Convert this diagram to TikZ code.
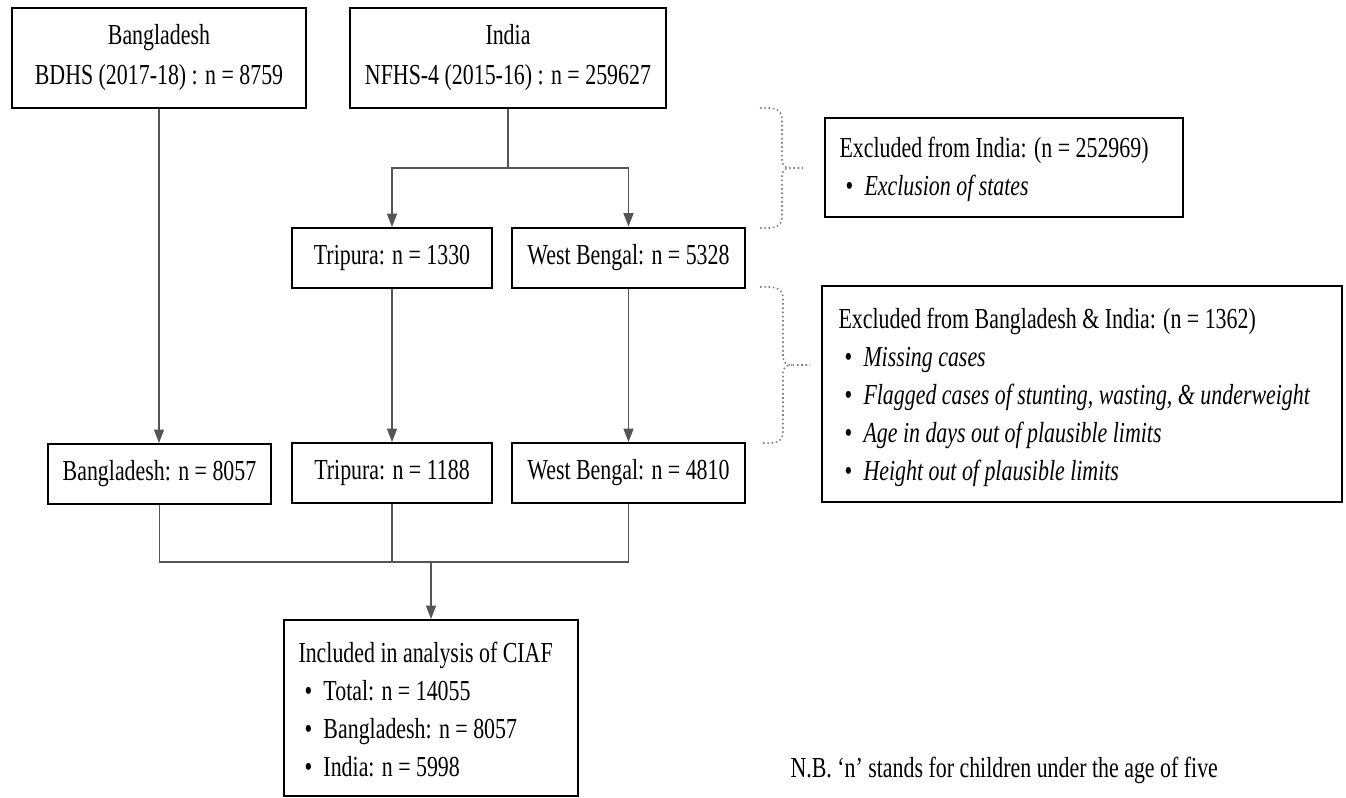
\documentclass[tikz,border=0pt]{standalone}
\usepackage{fontspec}
\setmainfont[FakeStretch=0.755]{Liberation Serif}
\usetikzlibrary{arrows.meta}

\definecolor{linkgrey}{RGB}{85,85,85}
\definecolor{bracegrey}{RGB}{130,130,130}

\tikzset{every picture/.style={line width=0.75pt}}
\tikzset{
  box/.style={draw, line width=1.5pt, inner sep=0pt, align=center,
    font=\fontsize{21.75pt}{30pt}\selectfont},
  listtext/.style={anchor=west, inner sep=0pt, align=left,
    font=\fontsize{21.75pt}{28.5pt}\selectfont},
  link/.style={draw=linkgrey, line width=0.9pt},
  arr/.style={link, -{Triangle[length=10pt,width=7.5pt]}},
  brace/.style={draw=bracegrey, line width=1.2pt, dotted}
}
\newcommand{\itm}[1]{\makebox[18.75pt][l]{\hspace*{4.5pt}\textbullet}#1}

\begin{document}
\begin{tikzpicture}[x=0.75pt,y=0.75pt,yscale=-1,xscale=1]
	\useasboundingbox (0,0) rectangle (1346,797);

	% Top boxes
	\node[box, minimum width=220.5pt, minimum height=75pt] (bdTop) at (159,58) {Bangladesh\\BDHS (2017-18) : n = 8759};
	\node[box, minimum width=237pt, minimum height=75pt] (inTop) at (508,58) {India\\NFHS-4 (2015-16) : n = 259627};

	% India states
	\node[box, minimum width=150pt, minimum height=45pt] (tri1) at (392,258) {Tripura: n = 1330};
	\node[box, minimum width=174.75pt, minimum height=45pt] (wb1) at (628.5,257.5) {West Bengal: n = 5328};

	% After exclusions
	\node[box, minimum width=167.25pt, minimum height=45pt] (bd2) at (159.5,474) {Bangladesh: n = 8057};
	\node[box, minimum width=150pt, minimum height=45pt] (tri2) at (392,473) {Tripura: n = 1188};
	\node[box, minimum width=174.75pt, minimum height=45pt] (wb2) at (628.5,473) {West Bengal: n = 4810};

	% Included
	\node[box, minimum width=220.5pt, minimum height=132pt] (incl) at (431,708) {};
	\node[listtext] (inclText) at (298,709) {Included in analysis of CIAF\\\itm{Total: n = 14055}\\\itm{Bangladesh: n = 8057}\\\itm{India: n = 5998}};

	% Exclusion boxes
	\node[box, minimum width=268.5pt, minimum height=74.25pt] (exIn) at (1004,167.5) {};
	\node[listtext] (exInText) at (839,169) {Excluded from India: (n = 252969)\\\itm{\textit{Exclusion of states}}};
	\node[box, minimum width=390pt, minimum height=162pt] (exBoth) at (1082,394) {};
	\node[listtext] (exBothText) at (838,397) {Excluded from Bangladesh \& India: (n = 1362)\\\itm{\textit{Missing cases}}\\\itm{\textit{Flagged cases of stunting, wasting, \& underweight}}\\\itm{\textit{Age in days out of plausible limits}}\\\itm{\textit{Height out of plausible limits}}};

	% Note
	\node[listtext] (nb) at (790,770) {N.B. ‘n’ stands for children under the age of five};

	% Connectors
	\coordinate (split) at (508,168);
	\coordinate (join) at (431,562);
	\draw[arr] (bdTop.south) -- (bdTop.south |- bd2.north);
	\draw[link] (inTop.south) -- (split);
	\draw[arr] (split) -| (tri1.north);
	\draw[arr] (split) -| (wb1.north);
	\draw[arr] (tri1.south) -- (tri2.north);
	\draw[arr] (wb1.south) -- (wb2.north);
	\draw[link] (bd2.south) |- (join);
	\draw[link] (tri2.south) |- (join);
	\draw[link] (wb2.south) |- (join);
	\draw[arr] (join) -- (incl.north);

	% Braces
	\draw[brace] (760,108) .. controls (776,107) and (782,110) .. (782,120) -- (782,160) .. controls (782,165) and (785,168) .. (790,168) -- (803,168);
	\draw[brace] (760,228) .. controls (776,229) and (782,226) .. (782,216) -- (782,176) .. controls (782,171) and (785,168) .. (790,168);
	\draw[brace] (760,287) .. controls (777,286) and (783,289) .. (783,299) -- (783,357) .. controls (783,362) and (786,365) .. (792,365) -- (810,365);
	\draw[brace] (763,443) .. controls (778,444) and (783,441) .. (783,431) -- (783,373) .. controls (783,368) and (786,365) .. (792,365);

\end{tikzpicture}
\end{document}
